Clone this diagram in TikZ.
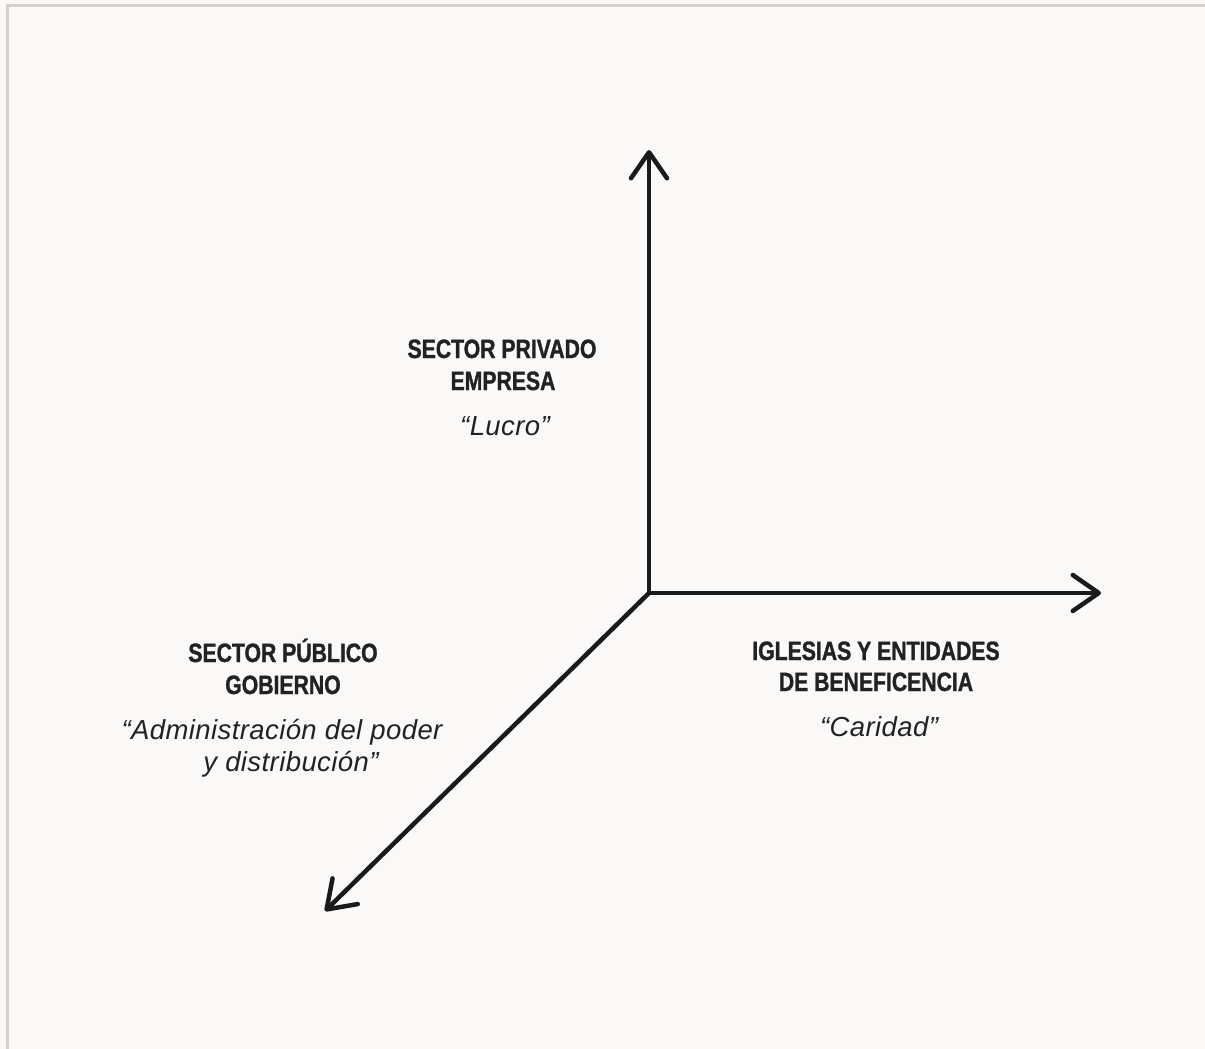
\documentclass[tikz,border=0pt]{standalone}
\usepackage{fontspec}
\usetikzlibrary{arrows.meta}
\newfontfamily\headfont{Liberation Sans}[FakeStretch=0.8,FakeBold=1.2]
\newfontfamily\quotefont{Liberation Sans}[LetterSpace=1.5]
\definecolor{bgcol}{HTML}{FAF9F7}
\definecolor{framecol}{HTML}{D2D1CF}
\definecolor{inkcol}{HTML}{1A1A1A}
\definecolor{textcol}{HTML}{222222}
\tikzset{
  axis/.style={line width=4.5pt, draw=inkcol, line cap=round,
    -{Straight Barb[length=26pt,width=36pt,round]}},
  head/.style={anchor=base, inner sep=0pt, text=textcol,
    font=\headfont\bfseries\fontsize{26.5}{30}\selectfont},
  quote/.style={anchor=base, inner sep=0pt, text=textcol,
    font=\quotefont\itshape\fontsize{27.5}{31}\selectfont},
}
\begin{document}
\begin{tikzpicture}[x=1pt,y=-1pt]
\useasboundingbox (0,0) rectangle (1205,1049);
\fill[bgcol] (0,0) rectangle (1205,1049);
\draw[framecol, line width=3pt] (7,1049) -- (7,6) -- (1205,6);

\coordinate (O) at (649,593);
\coordinate (up) at (649,150);
\coordinate (right) at (1101,593);
\coordinate (downleft) at (325,911);

\draw[axis] (O) -- (up);
\draw[axis] (O) -- (right);
\draw[axis] (O) -- (downleft);

\node[head] (priv1) at (502,358) {SECTOR PRIVADO};
\node[head] (priv2) at (503,390) {EMPRESA};
\node[quote] (privq) at (505,435) {“Lucro”};

\node[head] (pub1) at (283,662) {SECTOR PÚBLICO};
\node[head] (pub2) at (283,694) {GOBIERNO};
\node[quote] (pubq1) at (282,739) {“Administración del poder};
\node[quote] (pubq2) at (291,771) {y distribución”};

\node[head] (igl1) at (876,660) {IGLESIAS Y ENTIDADES};
\node[head] (igl2) at (876,691) {DE BENEFICENCIA};
\node[quote] (iglq) at (879,736) {“Caridad”};
\end{tikzpicture}
\end{document}
